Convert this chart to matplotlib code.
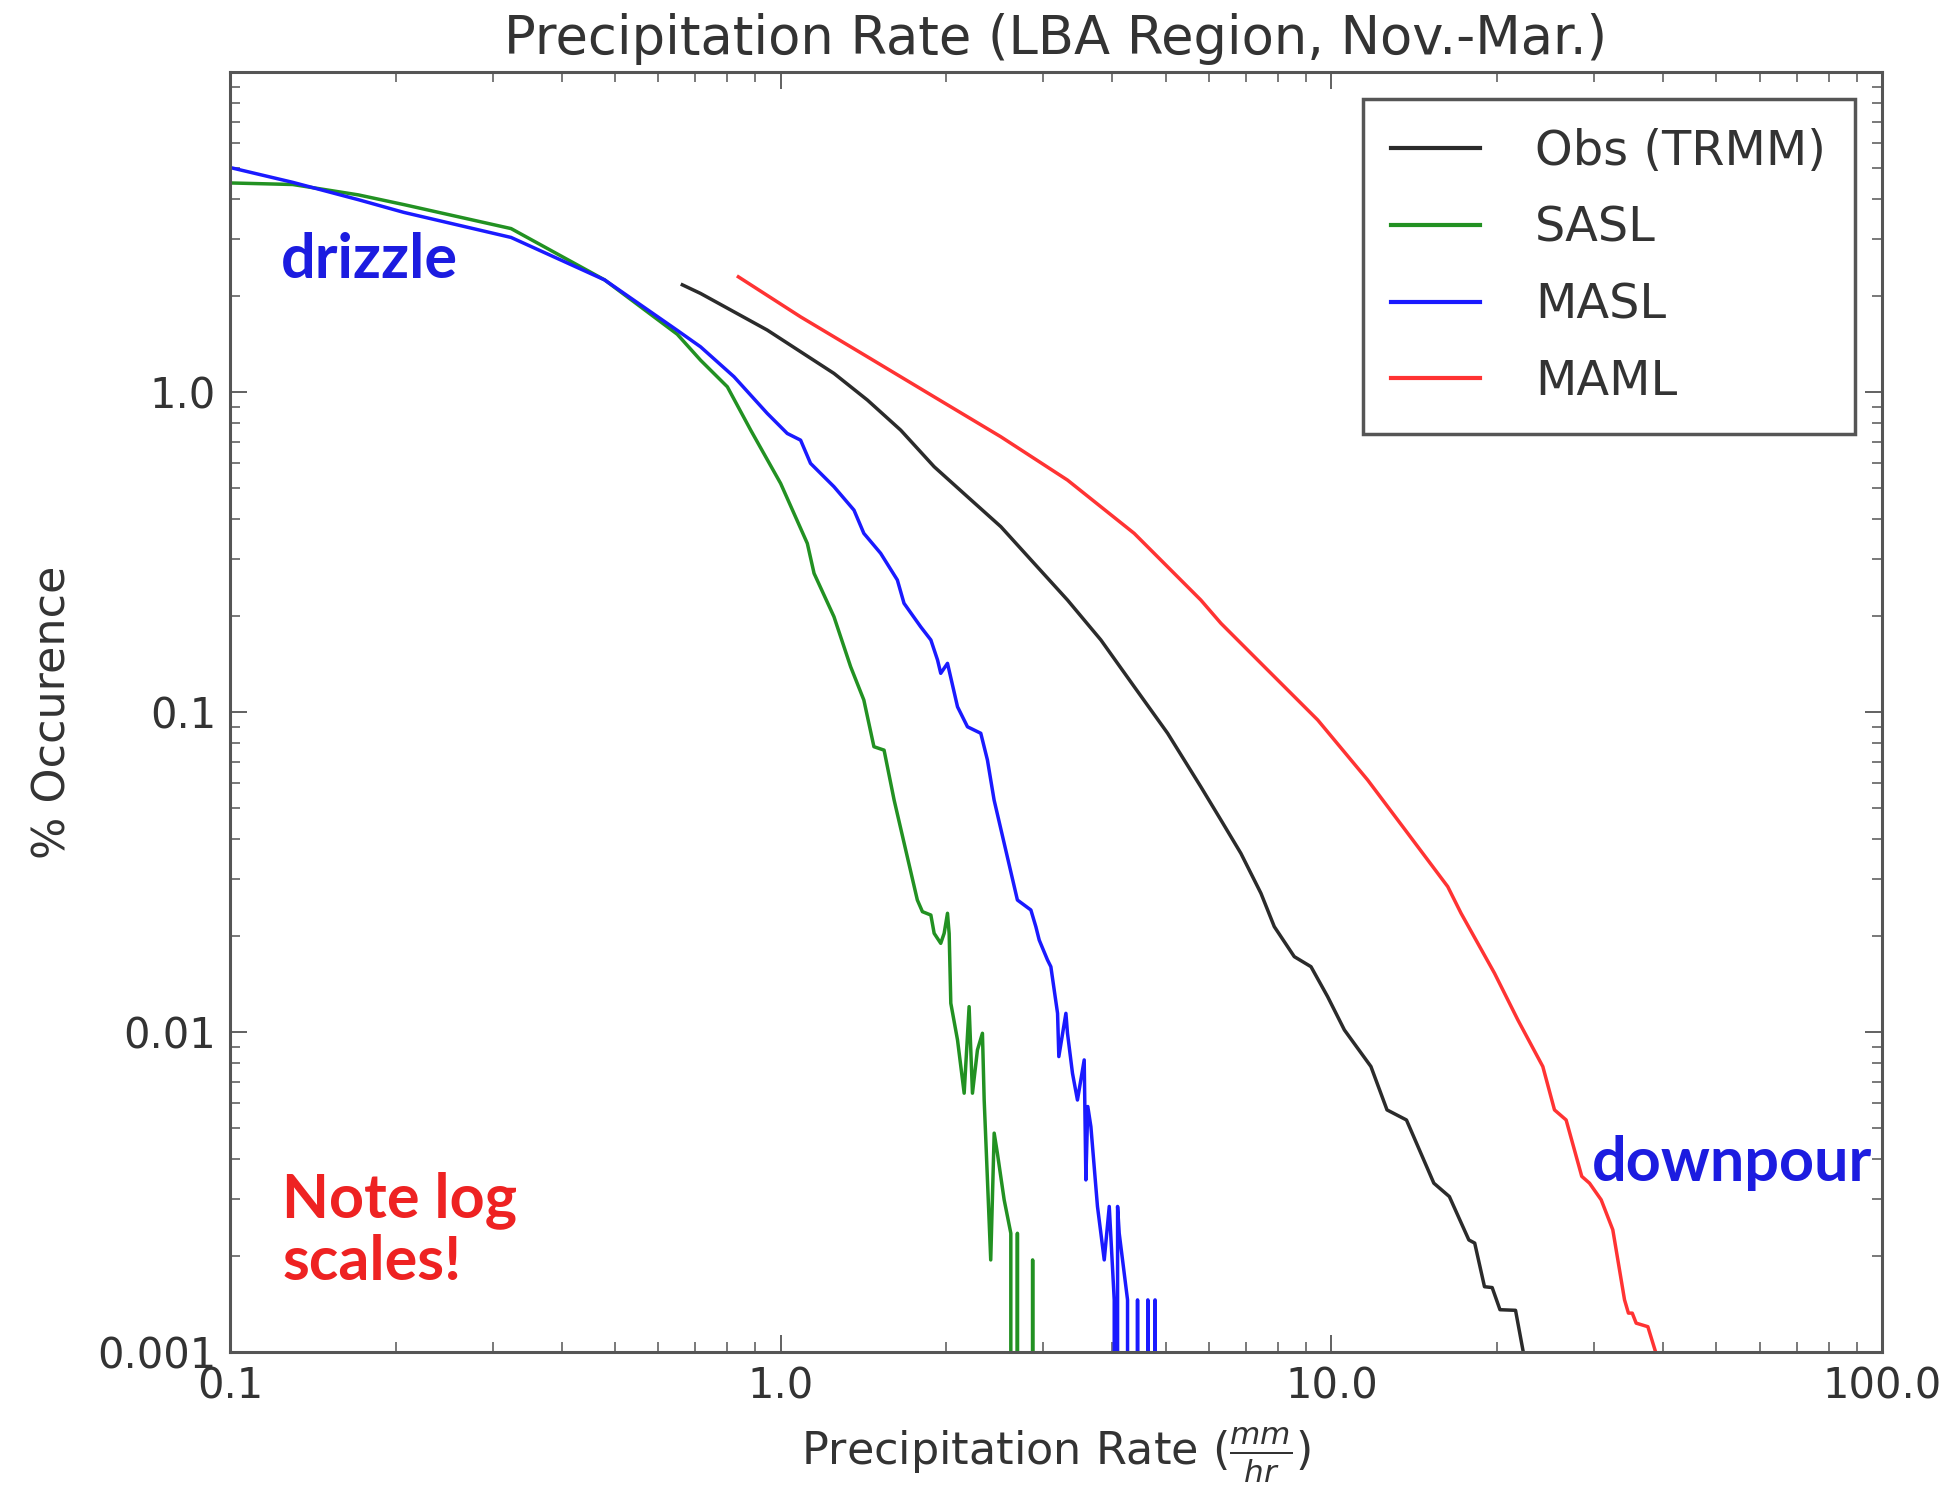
import numpy as np
import matplotlib
matplotlib.use("Agg")
import matplotlib.pyplot as plt

# ------------------------------------------------------
# Data (% occurrence vs mm/hr)
# ------------------------------------------------------
obs_x = [0.663, 0.7154, 0.9456, 1.2497, 1.4375, 1.652, 1.900, 2.184, 2.511, 2.887,
         3.318, 3.815, 4.385, 5.043, 5.794, 6.302, 6.851, 7.450, 7.877, 8.564,
         9.184, 9.845, 10.56, 11.80, 12.62, 13.69, 15.35, 16.38, 17.77, 18.21,
         18.97, 19.59, 20.24, 21.60, 22.31, 22.5]
obs_y = [2.162, 2.032, 1.561, 1.143, 0.9434, 0.7599, 0.5840, 0.4706, 0.3794, 0.2912,
         0.2238, 0.1679, 0.1200, 0.0858, 0.0584, 0.04597, 0.03616, 0.02713, 0.02135, 0.01720,
         0.0160, 0.01290, 0.01015, 0.0078, 0.00571, 0.00531, 0.00337, 0.00306, 0.00224, 0.00219,
         0.0016, 0.00159, 0.001356, 0.00135, 0.001, 0.0]

sasl_x = [0.100, 0.130, 0.171, 0.207, 0.324, 0.479, 0.649, 0.7154, 0.8002, 0.8823,
          1.000, 1.118, 1.150, 1.2497, 1.340, 1.416, 1.477, 1.541, 1.607, 1.771,
          1.809, 1.874, 1.900, 1.953, 1.981, 2.009, 2.023, 2.037, 2.095, 2.154,
          2.199, 2.230, 2.277, 2.325, 2.342, 2.407, 2.442, 2.475, 2.546, 2.618,
          2.655, 2.691, 2.730, 2.850, 2.868, 2.907]
sasl_y = [4.50, 4.45, 4.13, 3.85, 3.24, 2.24, 1.515, 1.257, 1.038, 0.760,
          0.5178, 0.3363, 0.2711, 0.1985, 0.1385, 0.109, 0.0779, 0.076, 0.0531, 0.02585,
          0.02377, 0.0232, 0.02034, 0.01893, 0.02034, 0.0235, 0.0203, 0.0123, 0.00944, 0.00644,
          0.0120, 0.00644, 0.00879, 0.00991, 0.00613, 0.00194, 0.00483, 0.00418, 0.00299, 0.00235,
          0.0, 0.00235, 0.0, 0.0, 0.00194, 0.0]

masl_x = [0.100, 0.130, 0.171, 0.207, 0.324, 0.479, 0.649, 0.7154, 0.8228, 0.9456,
          1.028, 1.087, 1.133, 1.2497, 1.359, 1.416, 1.519, 1.629, 1.675, 1.796,
          1.874, 1.927, 1.953, 2.009, 2.095, 2.184, 2.309, 2.374, 2.441, 2.691,
          2.847, 2.907, 2.948, 3.052, 3.095, 3.183, 3.200, 3.296, 3.318, 3.388,
          3.459, 3.558, 3.583, 3.612, 3.659, 3.761, 3.815, 3.869, 3.951, 4.034,
          4.060, 4.091, 4.119, 4.265, 4.280, 4.430, 4.447, 4.460, 4.630, 4.643,
          4.660, 4.770, 4.785, 4.800]
masl_y = [5.03, 4.52, 3.99, 3.64, 3.04, 2.24, 1.558, 1.384, 1.116, 0.857,
          0.742, 0.7071, 0.5984, 0.5059, 0.4273, 0.3616, 0.3133, 0.2585, 0.2186, 0.1846,
          0.1679, 0.1454, 0.1321, 0.1419, 0.1038, 0.0899, 0.0858, 0.0708, 0.0531, 0.02585,
          0.02406, 0.02133, 0.01938, 0.01679, 0.016, 0.01144, 0.00838, 0.01144, 0.00991, 0.00743,
          0.00613, 0.00818, 0.00345, 0.00585, 0.00506, 0.00285, 0.00235, 0.00194, 0.00285, 0.001455,
          0.0, 0.00285, 0.00235, 0.001455, 0.0, 0.0, 0.001455, 0.0, 0.0, 0.001455,
          0.0, 0.0, 0.001455, 0.0]

maml_x = [0.838, 1.087, 1.4375, 1.900, 2.511, 3.318, 4.385, 5.794, 6.302, 7.664,
          9.447, 11.64, 13.76, 16.27, 17.20, 19.78, 21.81, 24.21, 25.42, 26.69,
          28.49, 29.43, 30.90, 32.44, 34.07, 34.63, 35.19, 35.77, 37.56, 38.80, 39.0]
maml_y = [2.29, 1.717, 1.288, 0.9656, 0.7245, 0.5305, 0.3616, 0.2238, 0.1893, 0.1352,
          0.0944, 0.0613, 0.0418, 0.02846, 0.0235, 0.01527, 0.01091, 0.0078, 0.00571, 0.00531,
          0.00354, 0.00337, 0.00299, 0.00241, 0.001456, 0.001323, 0.001323, 0.001231, 0.0012, 0.001, 0.0]

x_ticks = [0.1, 1.0, 10.0, 100.0]
x_ticklabels = ["0.1", "1.0", "10.0", "100.0"]
y_ticks = [0.001, 0.01, 0.1, 1.0]
y_ticklabels = ["0.001", "0.01", "0.1", "1.0"]

# ------------------------------------------------------
# Figure
# ------------------------------------------------------
text_col = "#333333"
fig = plt.figure(figsize=(19.57, 14.90), dpi=100)
ax = fig.add_axes([0.1175, 0.0926, 0.8442, 0.8591])

ax.plot(obs_x, obs_y, color="#2b2b2b", lw=2.5, label="Obs (TRMM)")
ax.plot(sasl_x, sasl_y, color="#229122", lw=2.5, label="SASL")
ax.plot(masl_x, masl_y, color="#1a1aff", lw=2.5, label="MASL")
ax.plot(maml_x, maml_y, color="#ff3333", lw=2.5, label="MAML")

ax.set_xscale("log", nonpositive="clip")
ax.set_yscale("log", nonpositive="clip")
ax.set_xlim(0.1, 100)
ax.set_ylim(0.001, 10)

ax.set_xticks(x_ticks)
ax.set_xticklabels(x_ticklabels)
ax.set_yticks(y_ticks)
ax.set_yticklabels(y_ticklabels)

ax.tick_params(which="both", direction="in", top=True, right=True,
               colors="#555555", labelcolor=text_col, labelsize=30)
ax.tick_params(which="major", length=12, width=1.3, pad=10)
ax.tick_params(which="minor", length=7, width=1.1)
for sp in ax.spines.values():
    sp.set_color("#555555")
    sp.set_linewidth(2.2)

ax.set_title("Precipitation Rate (LBA Region, Nov.-Mar.)", fontsize=38,
             color=text_col, pad=13)
ax.set_xlabel(r"Precipitation Rate ($\frac{mm}{hr}$)", fontsize=32, color=text_col)
ax.set_ylabel("% Occurence", fontsize=32, color=text_col)
ax.xaxis.set_label_coords(0.5, -0.058)
ax.yaxis.set_label_coords(-0.094, 0.5)

leg = ax.legend(loc="upper right", fontsize=34.5, fancybox=False, framealpha=1,
                handlelength=1.85, handletextpad=1.15, labelspacing=0.62,
                borderaxespad=0.57, borderpad=0.6)
leg.get_frame().set_edgecolor("#555555")
leg.get_frame().set_linewidth(2.5)
for ln in leg.get_lines():
    ln.set_linewidth(3)
for t in leg.get_texts():
    t.set_color(text_col)

note_font = ["Lato", "DejaVu Sans"]
ax.text(0.1795, 2.59, "drizzle", ha="center", va="center", fontsize=44,
        fontweight="bold", family=note_font, color="#1c1ce0")
ax.text(53.5, 0.0039, "downpour", ha="center", va="center", fontsize=44,
        fontweight="bold", family=note_font, color="#1c1ce0")
ax.text(0.1245, 0.0024, "Note log\nscales!", ha="left", va="center", fontsize=44,
        fontweight="bold", family=note_font, color="#ee2222", linespacing=1.1)

fig.savefig("out.png", dpi=100, facecolor="white")
